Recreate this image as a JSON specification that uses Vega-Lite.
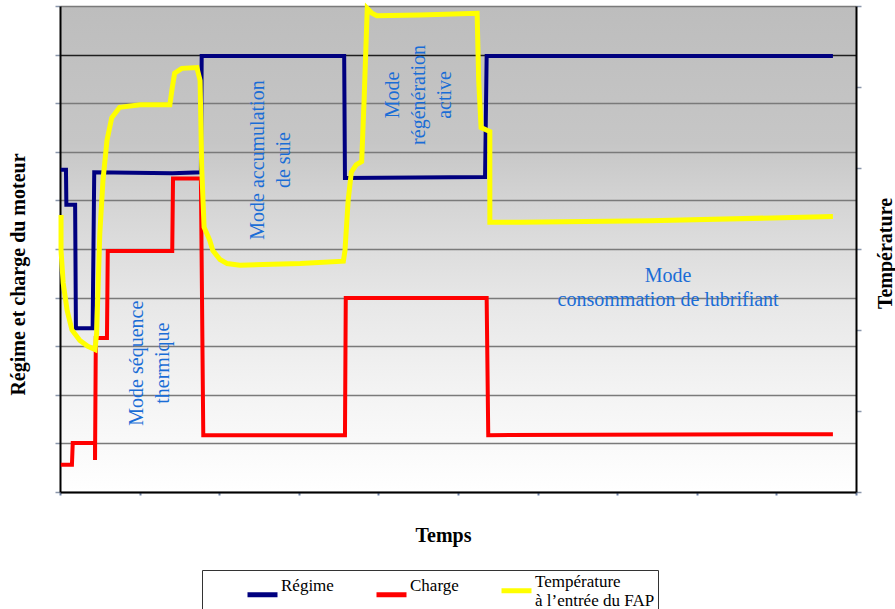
{
  "$schema": "https://vega.github.io/schema/vega-lite/v6.json",
  "width": 796,
  "height": 486,
  "autosize": {"type": "none"},
  "padding": {"left": 60, "top": 6, "right": 39, "bottom": 117},
  "background": "white",
  "config": {
    "view": {
      "stroke": null,
      "fill": {"gradient": "linear", "x1": 0, "y1": 0, "x2": 0, "y2": 1,
        "stops": [
          {"offset": 0, "color": "#bdbdbd"},
          {"offset": 0.28, "color": "#c6c6c6"},
          {"offset": 0.42, "color": "#d6d6d6"},
          {"offset": 0.62, "color": "#e8e8e8"},
          {"offset": 0.82, "color": "#f5f5f5"},
          {"offset": 1, "color": "#ffffff"}
        ]}
    },
    "font": "Liberation Serif",
    "axis": {"titleFont": "Liberation Serif", "titleFontWeight": "bold", "titleFontSize": 20, "titleColor": "black", "labels": false},
    "legend": {"orient": "none", "legendX": 142, "legendY": 564, "direction": "horizontal", "title": "\u200b", "titleOrient": "right", "titlePadding": 52, "titleFontSize": 10, "strokeColor": "#333333", "padding": 3, "symbolType": "stroke", "symbolSize": 900, "symbolStrokeWidth": 5, "symbolOffset": 40, "labelFont": "Liberation Serif", "labelFontSize": 17, "labelColor": "black", "labelOffset": 1, "labelLimit": 0, "labelBaseline": "bottom", "columnPadding": 0}
  },
  "datasets": {
    "regime": [
      {"t": 0.01, "v": 6.63}, {"t": 0.075, "v": 6.63}, {"t": 0.08, "v": 5.91}, {"t": 0.19, "v": 5.91},
      {"t": 0.2, "v": 3.37}, {"t": 0.41, "v": 3.37}, {"t": 0.43, "v": 6.58}, {"t": 1.41, "v": 6.56},
      {"t": 1.77, "v": 6.58}, {"t": 1.78, "v": 8.97}, {"t": 3.57, "v": 8.97}, {"t": 3.58, "v": 6.46},
      {"t": 5.34, "v": 6.48}, {"t": 5.36, "v": 8.97}, {"t": 9.71, "v": 8.97}
    ],
    "charge": [
      {"t": 0.01, "v": 0.56}, {"t": 0.15, "v": 0.56}, {"t": 0.16, "v": 1.01}, {"t": 0.44, "v": 1.01},
      {"t": 0.44, "v": 0.66}, {"t": 0.45, "v": 3.17}, {"t": 0.59, "v": 3.17}, {"t": 0.6, "v": 4.96},
      {"t": 1.41, "v": 4.96}, {"t": 1.42, "v": 6.45}, {"t": 1.77, "v": 6.45}, {"t": 1.8, "v": 1.17},
      {"t": 3.58, "v": 1.17}, {"t": 3.59, "v": 3.99}, {"t": 5.36, "v": 3.99}, {"t": 5.38, "v": 1.17},
      {"t": 9.71, "v": 1.19}
    ],
    "temp": [
      {"t": 0.013, "v": 3.42}, {"t": 0.013, "v": 2.98}, {"t": 0.04, "v": 2.58}, {"t": 0.09, "v": 2.24},
      {"t": 0.15, "v": 2.0}, {"t": 0.25, "v": 1.87}, {"t": 0.35, "v": 1.8}, {"t": 0.44, "v": 1.76},
      {"t": 0.46, "v": 1.96}, {"t": 0.48, "v": 2.58}, {"t": 0.5, "v": 3.19}, {"t": 0.54, "v": 3.85},
      {"t": 0.59, "v": 4.34}, {"t": 0.65, "v": 4.62}, {"t": 0.75, "v": 4.75}, {"t": 1.01, "v": 4.78},
      {"t": 1.38, "v": 4.78}, {"t": 1.41, "v": 4.99}, {"t": 1.44, "v": 5.17}, {"t": 1.53, "v": 5.23},
      {"t": 1.72, "v": 5.24}, {"t": 1.76, "v": 5.08}, {"t": 1.78, "v": 4.01}, {"t": 1.81, "v": 3.27},
      {"t": 1.88, "v": 3.11}, {"t": 1.92, "v": 2.98}, {"t": 2.01, "v": 2.87}, {"t": 2.1, "v": 2.82},
      {"t": 2.26, "v": 2.8}, {"t": 3.02, "v": 2.82}, {"t": 3.56, "v": 2.85}, {"t": 3.58, "v": 2.98},
      {"t": 3.62, "v": 3.6}, {"t": 3.66, "v": 3.95}, {"t": 3.72, "v": 4.04}, {"t": 3.79, "v": 4.08},
      {"t": 3.82, "v": 4.83}, {"t": 3.86, "v": 5.97}, {"t": 3.92, "v": 5.91}, {"t": 3.98, "v": 5.88},
      {"t": 4.52, "v": 5.89}, {"t": 5.24, "v": 5.91}, {"t": 5.26, "v": 5.08}, {"t": 5.29, "v": 4.5},
      {"t": 5.4, "v": 4.45}, {"t": 5.4, "v": 3.33}, {"t": 5.78, "v": 3.33}, {"t": 7.41, "v": 3.35},
      {"t": 9.71, "v": 3.4}
    ],
    "modes_v": [
      {"t": 0.97, "v": 2.65, "label": "Mode séquence\nthermique"},
      {"t": 2.49, "v": 6.83, "label": "Mode accumulation\nde suie"},
      {"t": 4.18, "v": 8.17, "label": "Mode\nrégénération\nactive"}
    ],
    "modes_h": [
      {"t": 7.64, "v": 4.44, "label": "Mode\nconsommation de lubrifiant"}
    ]
  },
  "layer": [
    {
      "layer": [
        {
          "data": {"name": "charge"},
          "mark": {"type": "line", "strokeWidth": 4},
          "encoding": {
            "x": {"field": "t", "type": "quantitative", "scale": {"domain": [0, 10], "nice": false, "zero": false},
              "axis": {"orient": "bottom", "title": "Temps", "values": [0,1,2,3,4,5,6,7,8,9,10], "labels": false, "tickSize": 3, "tickWidth": 2, "tickColor": "#6f82a6", "domainColor": "black", "domainWidth": 2, "grid": false, "titleX": 383, "titleY": 43, "titleBaseline": "middle", "titleAlign": "center"}},
            "y": {"field": "v", "type": "quantitative", "scale": {"domain": [0, 10], "nice": false, "zero": false},
              "axis": {"orient": "left", "title": "Régime et charge du moteur", "values": [0,1,2,3,4,5,6,7,8,9,10], "labels": false, "tickSize": 5, "tickWidth": 1.5, "tickColor": "#8a96aa", "domainColor": "black", "domainWidth": 2, "grid": true, "gridColor": {"condition": {"test": "datum.value == 9", "value": "#1e1e1e"}, "value": "#7a7a7a"}, "gridWidth": 1.5, "titleX": -42, "titleY": 268, "titleAngle": 270, "titleBaseline": "middle", "titleAlign": "center"}},
            "color": {"datum": "Charge", "type": "nominal",
              "scale": {"domain": ["Régime", "Charge", "Température"], "range": ["#00007f", "#ff0000", "#ffff00"]},
              "legend": {"labelExpr": "datum.label == 'Température' ? ['Température', 'à l’entrée du FAP'] : datum.label"}},
            "order": {"value": null}
          }
        },
        {
          "data": {"name": "regime"},
          "mark": {"type": "line", "strokeWidth": 4},
          "encoding": {
            "x": {"field": "t", "type": "quantitative", "scale": {"domain": [0, 10], "nice": false, "zero": false},
              "axis": {"orient": "bottom", "title": "Temps", "values": [0,1,2,3,4,5,6,7,8,9,10], "labels": false, "tickSize": 3, "tickWidth": 2, "tickColor": "#6f82a6", "domainColor": "black", "domainWidth": 2, "grid": false, "titleX": 383, "titleY": 43, "titleBaseline": "middle", "titleAlign": "center"}},
            "y": {"field": "v", "type": "quantitative", "scale": {"domain": [0, 10], "nice": false, "zero": false},
              "axis": {"orient": "left", "title": "Régime et charge du moteur", "values": [0,1,2,3,4,5,6,7,8,9,10], "labels": false, "tickSize": 5, "tickWidth": 1.5, "tickColor": "#8a96aa", "domainColor": "black", "domainWidth": 2, "grid": true, "gridColor": {"condition": {"test": "datum.value == 9", "value": "#1e1e1e"}, "value": "#7a7a7a"}, "gridWidth": 1.5, "titleX": -42, "titleY": 268, "titleAngle": 270, "titleBaseline": "middle", "titleAlign": "center"}},
            "color": {"datum": "Régime", "type": "nominal",
              "scale": {"domain": ["Régime", "Charge", "Température"], "range": ["#00007f", "#ff0000", "#ffff00"]},
              "legend": {"labelExpr": "datum.label == 'Température' ? ['Température', 'à l’entrée du FAP'] : datum.label"}},
            "order": {"value": null}
          }
        },
        {
          "data": {"name": "modes_v"},
          "mark": {"type": "text", "angle": 270, "align": "center", "baseline": "middle", "lineBreak": "\n", "lineHeight": 26, "font": "Liberation Serif", "fontSize": 20, "color": "#1a6dd6"},
          "encoding": {
            "x": {"field": "t", "type": "quantitative"},
            "y": {"field": "v", "type": "quantitative"},
            "text": {"field": "label", "type": "nominal"}
          }
        },
        {
          "data": {"name": "modes_h"},
          "mark": {"type": "text", "align": "center", "baseline": "middle", "lineBreak": "\n", "lineHeight": 24, "font": "Liberation Serif", "fontSize": 20, "color": "#1a6dd6"},
          "encoding": {
            "x": {"field": "t", "type": "quantitative"},
            "y": {"field": "v", "type": "quantitative"},
            "text": {"field": "label", "type": "nominal"}
          }
        }
      ]
    },
    {
      "data": {"name": "temp"},
      "mark": {"type": "line", "strokeWidth": 5},
      "encoding": {
        "x": {"field": "t", "type": "quantitative", "scale": {"domain": [0, 10], "nice": false, "zero": false},
          "axis": {"orient": "bottom", "title": "Temps", "values": [0,1,2,3,4,5,6,7,8,9,10], "labels": false, "tickSize": 3, "tickWidth": 2, "tickColor": "#6f82a6", "domainColor": "black", "domainWidth": 2, "grid": false, "titleX": 383, "titleY": 43, "titleBaseline": "middle", "titleAlign": "center"}},
        "y": {"field": "v", "type": "quantitative", "scale": {"domain": [0, 6], "nice": false, "zero": false},
          "axis": {"orient": "right", "title": "Température", "values": [0,1,2,3,4,5,6], "labels": false, "tickSize": 5, "tickWidth": 1.5, "tickColor": "#8a96aa", "domainColor": "black", "domainWidth": 2, "grid": false, "titleX": 29, "titleY": 247, "titleAngle": 270, "titleBaseline": "middle", "titleAlign": "center"}},
        "color": {"datum": "Température", "type": "nominal",
          "scale": {"domain": ["Régime", "Charge", "Température"], "range": ["#00007f", "#ff0000", "#ffff00"]},
          "legend": {"labelExpr": "datum.label == 'Température' ? ['Température', 'à l’entrée du FAP'] : datum.label"}},
        "order": {"value": null}
      }
    }
  ],
  "resolve": {"scale": {"y": "independent"}, "axis": {"y": "independent"}}
}
